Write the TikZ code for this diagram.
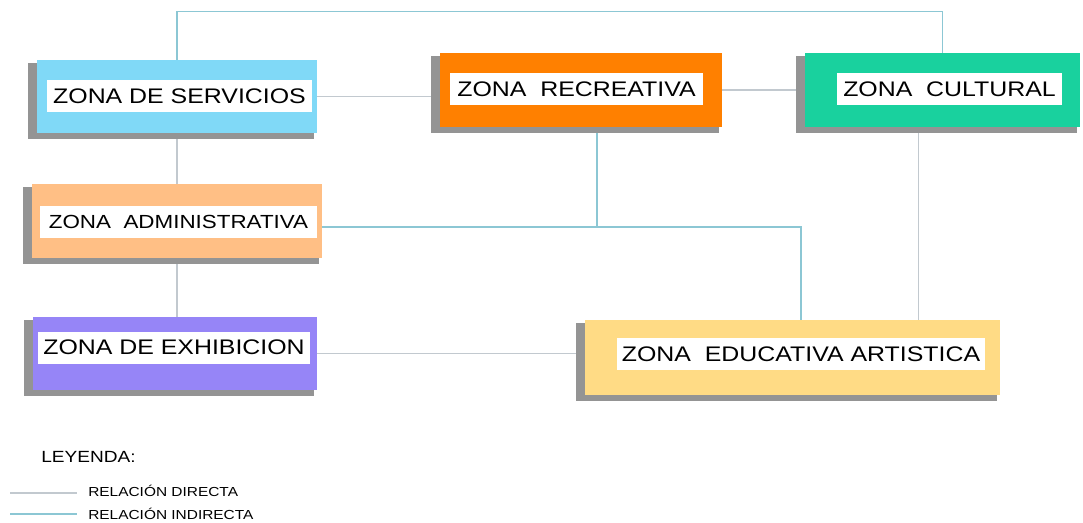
\documentclass[tikz,border=0pt]{standalone}
\usepackage{fontspec}
\setmainfont{Liberation Sans}[FakeStretch=1.18]
\usepackage{tikz}
\usetikzlibrary{backgrounds}
\definecolor{colservicios}{rgb}{0.50, 0.85, 0.97}
\definecolor{colrecreativa}{rgb}{1.0, 0.50, 0.0}
\definecolor{colcultural}{rgb}{0.10, 0.82, 0.62}
\definecolor{coladmin}{rgb}{1.0, 0.75, 0.52}
\definecolor{colexhibicion}{rgb}{0.59, 0.52, 0.97}
\definecolor{coleducativa}{rgb}{1.0, 0.86, 0.52}
\definecolor{coldirecta}{rgb}{0.76, 0.79, 0.81}
\definecolor{colindirecta}{rgb}{0.55, 0.78, 0.83}
\definecolor{colsombra}{rgb}{0.58, 0.58, 0.58}
\newcommand{\sombrazona}[1]{\fill[colsombra]
	([xshift=-0.22cm, yshift=-0.08cm]#1.north west) rectangle ([xshift=-0.08cm, yshift=-0.15cm]#1.south east);}

\begin{document}
\begin{tikzpicture}[x=0.025cm, y=-0.025cm]
		% STYLES
		\tikzstyle{zona} = [rectangle, draw=none, inner sep=0pt]
		\tikzstyle{etiqueta} = [rectangle, fill=white, inner sep=0pt, minimum height=0.8cm,
			font=\fontsize{15}{18}\selectfont]
		\tikzstyle{directa} = [line width=0.9pt, draw=coldirecta]
		\tikzstyle{indirecta} = [line width=0.9pt, draw=colindirecta]
		\tikzstyle{leyendatxt} = [anchor=west, inner sep=0pt, font=\fontsize{9.3}{11}\selectfont]

		\useasboundingbox (0, 0) rectangle (1083, 522);

		% ZONAS
		\node[zona, fill=colservicios, minimum width=7cm, minimum height=1.825cm] (servicios) at (177, 96.5) {};
		\node[etiqueta, minimum width=6.625cm] (serviciostxt) at (179.5, 96) {ZONA DE SERVICIOS};

		\node[zona, fill=colrecreativa, minimum width=7.05cm, minimum height=1.85cm] (recreativa) at (581, 90) {};
		\node[etiqueta, minimum width=6.325cm] (recreativatxt) at (576.5, 89) {ZONA\ \ RECREATIVA};

		\node[zona, fill=colcultural, minimum width=6.875cm, minimum height=1.85cm] (cultural) at (942.5, 90) {};
		\node[etiqueta, minimum width=5.625cm] (culturaltxt) at (949.5, 89) {ZONA\ \ CULTURAL};

		\node[zona, fill=coladmin, minimum width=7.25cm, minimum height=1.85cm] (administrativa) at (177, 221) {};
		\node[etiqueta, minimum width=6.925cm, font=\fontsize{13.5}{16}\selectfont] (administrativatxt) at (178.5, 222) {ZONA\ \ ADMINISTRATIVA};

		\node[zona, fill=colexhibicion, minimum width=7.1cm, minimum height=1.825cm] (exhibicion) at (175, 353.5) {};
		\node[etiqueta, minimum width=6.8cm] (exhibiciontxt) at (174, 347.5) {ZONA DE EXHIBICION};

		\node[zona, fill=coleducativa, minimum width=10.375cm, minimum height=1.875cm] (educativa) at (792.5, 357.5) {};
		\node[etiqueta, minimum width=9.2cm] (educativatxt) at (801, 354) {ZONA\ \ EDUCATIVA ARTISTICA};

		% RELACIONES
		\coordinate (cruce) at (597, 227);
		\coordinate (esquina) at (801, 227);
		\begin{scope}[on background layer]
			\draw[indirecta] (servicios.north) -- ++(0, -48) -| (cultural.north);
			\draw[directa] (servicios.east) -- (servicios.east -| recreativa.west);
			\draw[directa] (recreativa.east) -- (cultural.west);
			\draw[directa] (servicios.south) -- (administrativa.north);
			\draw[indirecta] (recreativa.south -| cruce) -- (cruce);
			\draw[indirecta] (administrativa.east |- esquina) -- (esquina) -- (esquina |- educativa.north);
			\draw[directa] ([xshift=-0.6cm]cultural.south) -- ([xshift=-0.6cm]cultural.south |- educativa.north);
			\draw[directa] (administrativa.south) -- (administrativa.south |- exhibicion.north);
			\draw[directa] (exhibicion.east) -- (exhibicion.east -| educativa.west);

			% sombras
			\foreach \z in {servicios, recreativa, cultural, administrativa, exhibicion, educativa}
				{\sombrazona{\z}}
		\end{scope}

		% LEYENDA
		\node[leyendatxt, font=\fontsize{11.5}{14}\selectfont] (leyenda) at (41, 457) {LEYENDA:};
		\node[leyendatxt] (directatxt) at (88, 491) {RELACIÓN DIRECTA};
		\node[leyendatxt] (indirectatxt) at (88, 514) {RELACIÓN INDIRECTA};
		\coordinate (linead) at (10, 493);
		\coordinate (lineai) at (10, 514);
		\draw[directa] (linead) -- ++(67, 0);
		\draw[indirecta] (lineai) -- ++(67, 0);

	\end{tikzpicture}
\end{document}
